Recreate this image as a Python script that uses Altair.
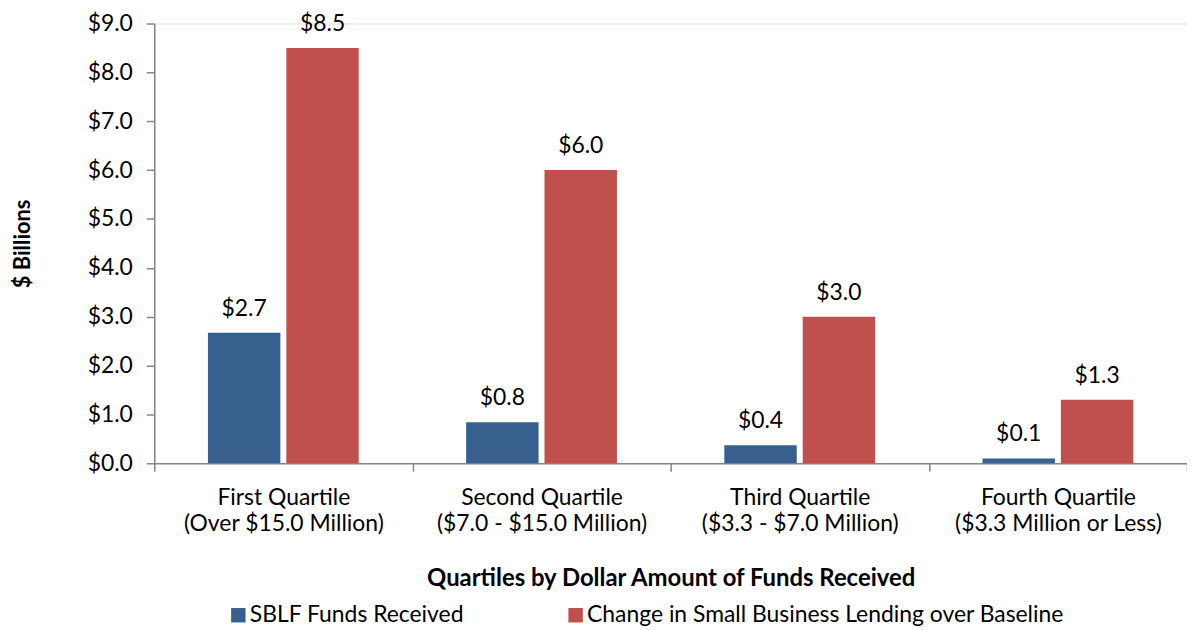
import altair as alt
import pandas as pd

categories = [
    "First Quartile|(Over $15.0 Million)",
    "Second Quartile|($7.0 - $15.0 Million)",
    "Third Quartile|($3.3 - $7.0 Million)",
    "Fourth Quartile|($3.3 Million or Less)",
]
series_names = ["SBLF Funds Received", "Change in Small Business Lending over Baseline"]
sblf_funds = [2.67, 0.84, 0.37, 0.10]
lending_change = [8.5, 6.0, 3.0, 1.3]
y_ticks = [0, 1, 2, 3, 4, 5, 6, 7, 8, 9]
colors = ["#37608f", "#c0504d"]

rows = []
for c, v in zip(categories, sblf_funds):
    rows.append({"cat": c, "series": series_names[0], "value": v})
for c, v in zip(categories, lending_change):
    rows.append({"cat": c, "series": series_names[1], "value": v})
df = pd.DataFrame(rows)

FONT = "Lato"
FS = 23

x_enc = alt.X(
    "cat:N",
    sort=categories,
    scale=alt.Scale(paddingInner=0, paddingOuter=0),
    axis=alt.Axis(
        title="Quartiles by Dollar Amount of Funds Received",
        labelExpr="split(datum.label, '|')",
        labelAngle=0,
        labelFontSize=FS,
        labelLineHeight=27,
        labelPadding=15,
        labelColor="#000000",
        labelFont=FONT,
        labelLimit=0,
        tickBand="extent",
        tickSize=8,
        tickColor="#868686",
        tickWidth=1.5,
        domainColor="#868686",
        domainWidth=1.5,
        titleFont=FONT,
        titleFontSize=24,
        titleFontWeight="bold",
        titlePadding=31,
        titleColor="#000000",
    ),
)
xoff = alt.XOffset(
    "series:N",
    sort=series_names,
    scale=alt.Scale(paddingInner=0.076, paddingOuter=0.685),
)

base = alt.Chart(df)

bars = base.mark_bar(stroke=None).encode(
    x=x_enc,
    xOffset=xoff,
    y=alt.Y(
        "value:Q",
        scale=alt.Scale(domain=[0, 9], nice=False),
        axis=alt.Axis(
            title="$ Billions",
            values=y_ticks,
            format="$.1f",
            grid=False,
            labelFontSize=FS,
            labelFont=FONT,
            labelColor="#000000",
            labelPadding=14,
            tickSize=8,
            tickWidth=1.5,
            tickColor="#868686",
            domainColor="#868686",
            domainWidth=1.5,
            titleFont=FONT,
            titleFontSize=22,
            titleFontWeight="bold",
            titleColor="#000000",
            titleAngle=-90,
            titleX=-132,
            titleY=221,
            titleBaseline="middle",
        ),
    ),
    color=alt.Color(
        "series:N",
        sort=series_names,
        scale=alt.Scale(domain=series_names, range=colors),
        legend=alt.Legend(
            title=None,
            orient="none",
            legendX=73,
            legendY=583,
            direction="horizontal",
            columns=2,
            symbolType="square",
            symbolSize=210,
            symbolStrokeWidth=0,
            labelFontSize=FS,
            labelFont=FONT,
            labelColor="#000000",
            labelOffset=0,
            labelLimit=0,
            columnPadding=100,
        ),
    ),
)

labels = base.mark_text(baseline="bottom", dy=-12, fontSize=FS, font=FONT, color="#000000").encode(
    x=alt.X("cat:N", sort=categories),
    xOffset=xoff,
    y=alt.Y("value:Q"),
    text=alt.Text("value:Q", format="$.1f"),
)

chart = (
    alt.layer(bars, labels)
    .properties(
        width=1038,
        height=442,
        autosize=alt.AutoSizeParams(type="none"),
        padding={"left": 147, "top": 14, "right": 0, "bottom": 168},
    )
    .configure_view(stroke=None)
    .configure(background="#ffffff")
)

chart.save("out.html", embed_options={"renderer": "svg", "actions": False})
